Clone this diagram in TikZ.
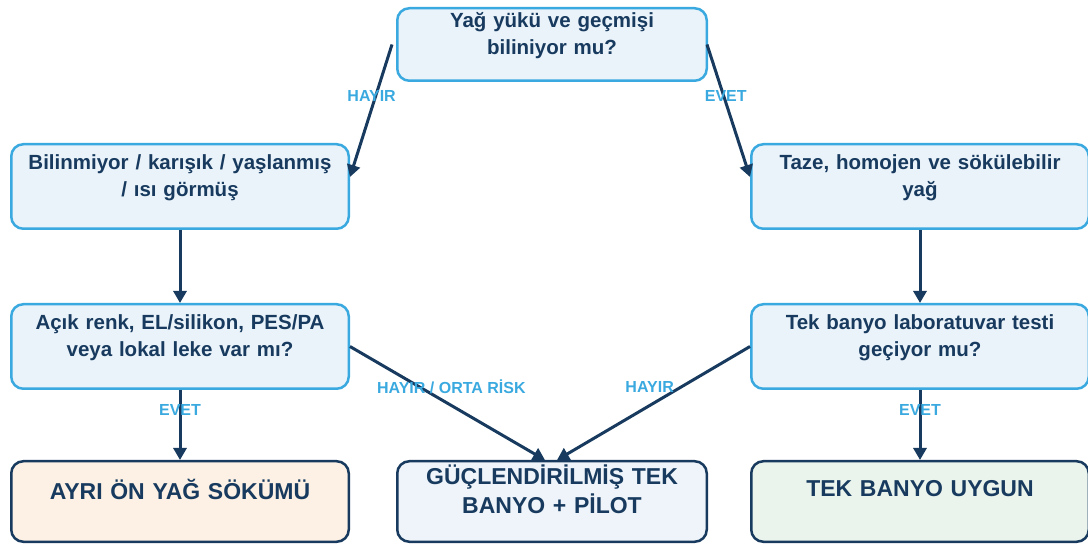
\documentclass[tikz,border=0pt]{standalone}
\usepackage{fontspec}
\setmainfont{Liberation Sans}
\usetikzlibrary{positioning,arrows.meta}
\definecolor{navy}{HTML}{173A5E}
\definecolor{sky}{HTML}{3AA9DF}
\definecolor{qfill}{HTML}{EAF3FA}
\definecolor{rorange}{HTML}{FCF1E4}
\definecolor{rblue}{HTML}{EEF4F9}
\definecolor{rgreen}{HTML}{EAF4EC}
\newcommand\padbot[1]{\endgraf\vspace*{#1}}
\begin{document}
\begin{tikzpicture}[x=1pt,y=-1pt,text=navy,
 font=\bfseries\fontsize{20.5}{27}\selectfont,
 b/.style={draw,rounded corners=12pt,line width=2.5pt,align=center,inner sep=0pt,
   text width=330pt,execute at end node={\padbot{18pt}}},
 qry/.style={b,draw=sky,fill=qfill,minimum height=84.5pt},
 res/.style={b,draw=navy,minimum height=80.5pt,font=\bfseries\fontsize{23}{29}\selectfont,
   execute at end node={\padbot{7pt}}},
 wide/.style={minimum width=337.5pt},
 ar/.style={-{Triangle[length=12pt,width=13pt]},line width=3pt,draw=navy},
 lbl/.style={text=sky,font=\bfseries\fontsize{16}{18}\selectfont}]
\useasboundingbox (0,0) rectangle (1088,545);
\node[qry,minimum width=309.5pt,minimum height=72.5pt,text width=300pt] (known) at (552,44.5) {Yağ yükü ve geçmişi\\ biliniyor mu?};
\node[qry,wide] (unknown) at (180,186.5) {Bilinmiyor / karışık / yaşlanmış\\ / ısı görmüş};
\node[qry,wide] (fresh) at (920,186.5) {Taze, homojen ve sökülebilir\\ yağ};
\node[qry,wide] (risk) at (180,346.5) {Açık renk, EL/silikon, PES/PA\\ veya lokal leke var mı?};
\node[qry,wide] (lab) at (920,346.5) {Tek banyo laboratuvar testi\\ geçiyor mu?};
\node[res,wide,fill=rorange] (pre) at (180,501.5) {AYRI ÖN YAĞ SÖKÜMÜ};
\node[res,minimum width=309.5pt,text width=300pt,fill=rblue] (pilot) at (552,501.5) {GÜÇLENDİRİLMİŞ TEK\\ BANYO + PİLOT};
\node[res,wide,fill=rgreen] (single) at (920,501.5) {TEK BANYO UYGUN};
\draw[ar] ([xshift=-4pt]known.west) -- node[lbl,pos=0.39,xshift=-4pt]{HAYIR} ([yshift=9.5pt]unknown.east);
\draw[ar] ([xshift=-1pt]known.east) -- node[lbl,pos=0.39,xshift=2pt]{EVET} ([yshift=9.5pt]fresh.west);
\draw[ar] (unknown) -- (risk);
\draw[ar] (fresh) -- (lab);
\draw[ar] (risk) -- node[lbl,pos=0.29]{EVET} (pre);
\draw[ar] (risk.east) -- node[lbl,pos=0.52,yshift=19pt]{HAYIR / ORTA RİSK} ([xshift=-7pt]pilot.north);
\draw[ar] (lab.west) -- node[lbl,pos=0.52,yshift=19pt]{HAYIR} ([xshift=5pt]pilot.north);
\draw[ar] (lab) -- node[lbl,pos=0.29]{EVET} (single);
\end{tikzpicture}
\end{document}
